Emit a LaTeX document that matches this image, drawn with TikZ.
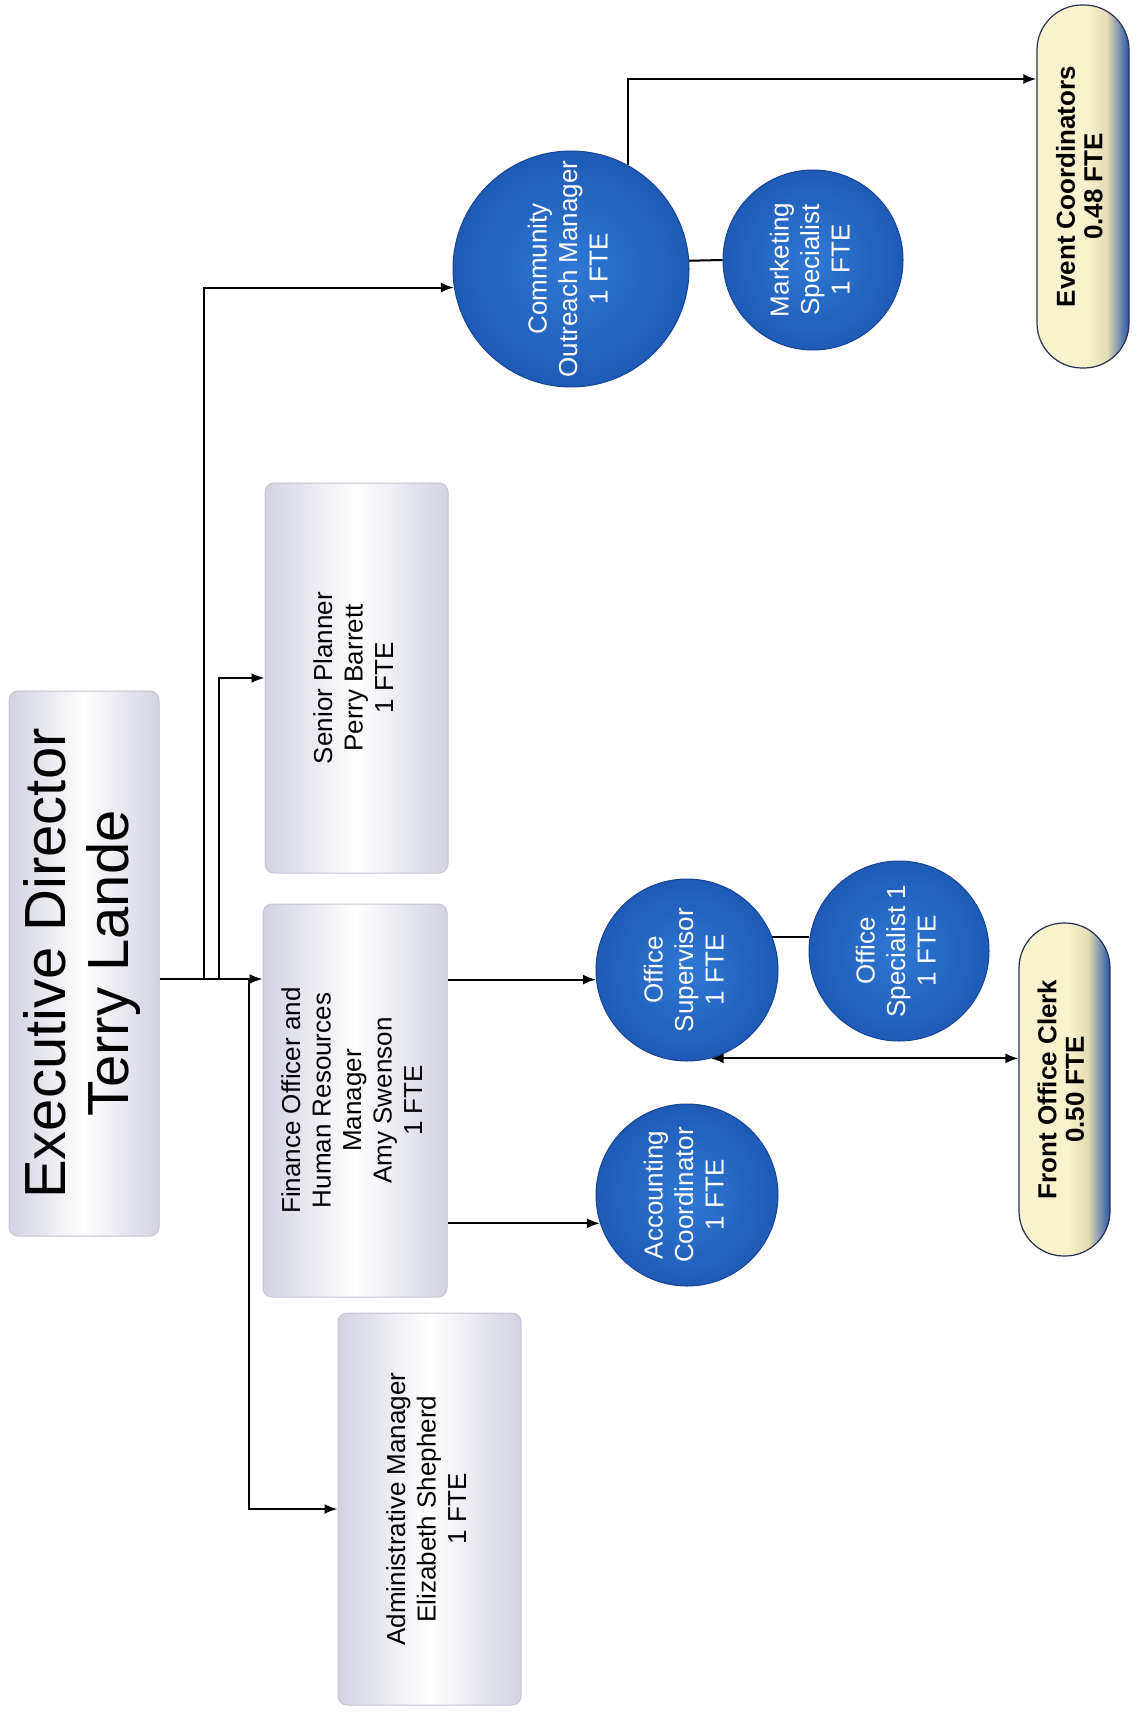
\documentclass[tikz,border=0pt]{standalone}
\usepackage{fontspec}
\setmainfont{Liberation Sans}
\usetikzlibrary{arrows.meta,calc}
\definecolor{boxedge}{RGB}{210,210,226}
\definecolor{boxline}{RGB}{196,196,212}
\definecolor{ballin}{RGB}{48,120,212}
\definecolor{ballout}{RGB}{30,90,182}
\definecolor{balledge}{RGB}{24,68,150}
\definecolor{pillyel}{RGB}{248,243,205}
\definecolor{pillmid}{RGB}{228,220,178}
\definecolor{pillblue}{RGB}{38,84,170}
\definecolor{pillline}{RGB}{40,50,80}
\pgfdeclarehorizontalshading{pillshade}{100bp}{color(0bp)=(pillyel); color(25bp)=(pillyel); color(52bp)=(pillyel); color(63bp)=(pillmid); color(75bp)=(pillblue); color(100bp)=(pillblue)}
\newcommand{\rtxt}[1]{\rotatebox{90}{\begin{tabular}{@{}c@{}}#1\end{tabular}}}
\tikzset{
  graybox/.style={draw=boxline, line width=1pt, rounded corners=9pt, left color=boxedge, right color=boxedge, middle color=white, inner sep=0pt, font=\fontsize{26}{30.5}\selectfont},
  ball/.style={circle, draw=balledge, line width=1pt, inner color=ballin, outer color=ballout, text=white, inner sep=0pt, font=\fontsize{26}{30.5}\selectfont},
  pill/.style={draw=pillline, line width=1.2pt, rounded corners=45pt, shading=pillshade, inner sep=0pt, font=\fontsize{26}{27.5}\selectfont\bfseries},
  arr/.style={-{Latex[length=13pt,width=10pt]}, line width=2pt},
  arrb/.style={{Latex[length=13pt,width=10pt]}-{Latex[length=13pt,width=10pt]}, line width=2pt},
  ln/.style={line width=2pt}
}
\begin{document}
\begin{tikzpicture}[x=1pt,y=-1pt]
\useasboundingbox (0,0) rectangle (1142,1712);
\fill[white] (0,0) rectangle (1142,1712);
% boxes
\node[graybox, minimum width=150pt, minimum height=545pt, font=\fontsize{58}{63}\selectfont] (exec) at (84,963.5) {\rtxt{Executive Director\\Terry Lande}};
\node[graybox, minimum width=183pt, minimum height=390pt] (sp) at (356.5,678) {\rtxt{Senior Planner\\Perry Barrett\\1 FTE}};
\node[graybox, minimum width=184pt, minimum height=393pt] (fin) at (355,1100.5) {\rtxt{Finance Officer and\\Human Resources\\Manager\\Amy Swenson\\1 FTE}};
\node[graybox, minimum width=183pt, minimum height=392pt] (adm) at (429.5,1509) {\rtxt{Administrative Manager\\Elizabeth Shepherd\\1 FTE}};
% circles
\node[ball, minimum size=236pt] (com) at (571,269) {\rtxt{Community\\Outreach Manager\\1 FTE}};
\node[ball, minimum size=180pt] (mkt) at (813,260) {\rtxt{Marketing\\Specialist\\1 FTE}};
\node[ball, minimum size=182pt] (osup) at (687,970) {\rtxt{Office\\Supervisor\\1 FTE}};
\node[ball, minimum size=180pt] (ospec) at (899,951) {\rtxt{Office\\Specialist 1\\1 FTE}};
\node[ball, minimum size=182pt] (acc) at (687,1195) {\rtxt{Accounting\\Coordinator\\1 FTE}};
% pills
\node[pill, minimum width=92pt, minimum height=363pt] (ev) at (1083,186.5) {\rtxt{Event Coordinators\\0.48 FTE}};
\node[pill, minimum width=91pt, minimum height=333pt] (foc) at (1064.5,1089.5) {\rtxt{Front Office Clerk\\0.50 FTE}};
% junction coordinates
\coordinate (e0) at (exec.east |- 0,979);
\coordinate (bcom) at (204,979);
\coordinate (bsp) at (219,979);
\coordinate (badm) at (249,979);
\coordinate (evin) at (ev.west |- 0,79);
% connectors
\draw[arr] (e0) -- (e0 -| fin.west);
\draw[arr] (bcom) |- (com.189);
\draw[arr] (bsp) |- (sp.west);
\draw[arr] (badm) |- (adm.west);
\draw[arr] (fin.east |- osup.186) -- (osup.186);
\draw[arr] (fin.east |- acc.198) -- (acc.198);
\draw[ln] (osup.21) -- (osup.21 -| ospec.west);
\draw[ln] (com.4) -- (mkt.west);
\draw[arr] (com.61) |- (evin);
\draw[arrb] (osup.-75) -- (osup.-75 -| foc.west);
\end{tikzpicture}
\end{document}
